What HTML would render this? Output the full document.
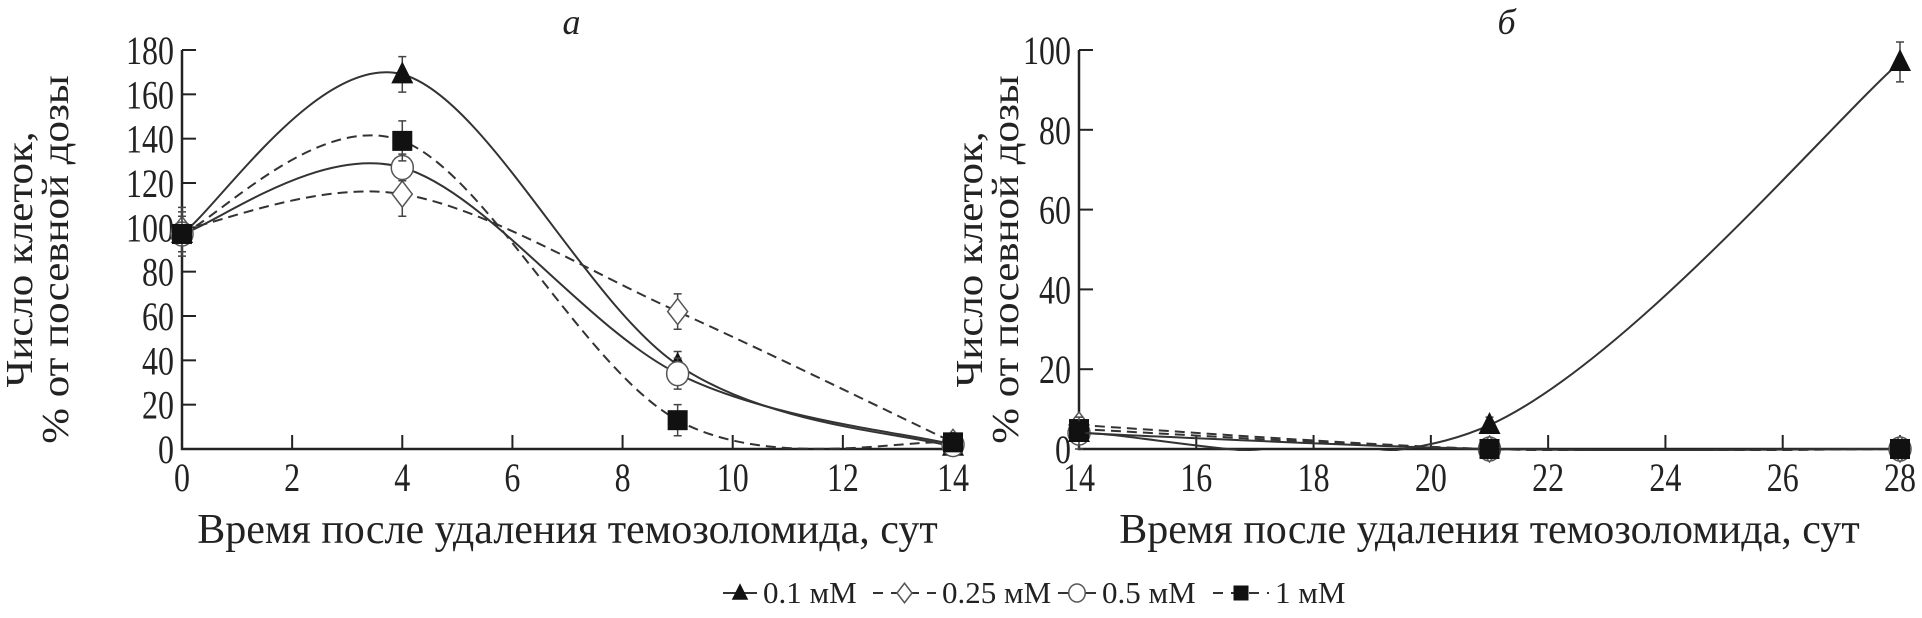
<!DOCTYPE html>
<html><head><meta charset="utf-8"><style>
body{margin:0;background:#fff}
svg text{font-family:"Liberation Serif",serif;fill:#222}
</style></head><body>
<svg id="c" width="1922" height="613" viewBox="0 0 1922 613" xmlns="http://www.w3.org/2000/svg"></svg>
<script>
const daysA=[0,4,9,14];
const a01=[97,169,38,1], a025=[99,115,62,3], a05=[97,127,34,2], a1=[97,139,13,3];
const eA01=[8,8,6,1], eA025=[10,10,8,1], eA05=[10,6,7,1], eA1=[8,9,7,1];
const daysB=[14,21,28];
const b01=[4,6,97], b025=[6,0,0], b05=[4,0,0], b1=[5,0,0];
const eB01=[4,2,5];
const ticksAX=[0,2,4,6,8,10,12,14], ticksAY=[0,20,40,60,80,100,120,140,160,180];
const ticksBX=[14,16,18,20,22,24,26,28], ticksBY=[0,20,40,60,80,100];
const svg=document.getElementById('c');const NS='http://www.w3.org/2000/svg';
function mk(t,a,p){const e=document.createElementNS(NS,t);for(const k in a)e.setAttribute(k,a[k]);(p||svg).appendChild(e);return e;}
function ctext(x,y,anchor,size,sx,txt,g){const t=mk('text',{transform:`translate(${x},${y}) scale(${sx},1)`,'text-anchor':anchor,'font-size':size},g);t.textContent=txt;return t;}
function panel(o){
 const g=mk('g',{});
 const X=v=>o.x0+(v-o.xmin)/(o.xmax-o.xmin)*(o.x1-o.x0), Y=v=>o.y0-(v-o.ymin)/(o.ymax-o.ymin)*(o.y0-o.y1);
 const cid='clip'+o.name;const cp=mk('clipPath',{id:cid},g);mk('rect',{x:o.x0,y:o.y1-20,width:o.x1-o.x0+20,height:o.y0-o.y1+22},cp);
 const ax=mk('path',{d:`M${o.x0},${o.y1}V${o.y0}H${o.x1}`,stroke:'#222','stroke-width':2.5,fill:'none'},g);
 
 o.tx.forEach(v=>{mk('line',{x1:X(v),x2:X(v),y1:o.y0,y2:o.y0-14,stroke:'#222','stroke-width':2},g);
  const t=ctext(X(v),o.y0+42,'middle',40,0.8,v,g);
  });
 o.ty.forEach(v=>{mk('line',{x1:o.x0,x2:o.x0+14,y1:Y(v),y2:Y(v),stroke:'#222','stroke-width':2},g);
  const t=ctext(o.x0-8,Y(v)+14,'end',40,0.8,v,g);
  });
 const tt=mk('text',{x:(o.x0+o.x1)/2,y:o.y0+94,'text-anchor':'middle','font-size':42},g);tt.textContent='Время после удаления темозоломида, сут';
 
 const yt=mk('text',{transform:`translate(${o.ytx},${(o.y0+o.y1)/2+10}) rotate(-90) scale(1.13,1)`,'text-anchor':'middle','font-size':38,'font-family':'"DejaVu Serif",serif'},g);
 
 const s1=mk('tspan',{x:0,dy:0},yt);s1.textContent='Число клеток,';const s2=mk('tspan',{x:0,dy:36},yt);s2.textContent='% от посевной дозы';
 const pl=mk('text',{x:(o.x0+o.x1)/2+o.lo,y:34,'text-anchor':'middle','font-size':36,'font-style':'italic'},g);pl.textContent=o.label;
 
 o.series.forEach(s=>{
  const P=o.days.map((d,i)=>[X(d),Y(s.v[i])]);let d=`M${P[0][0]},${P[0][1]}`;
  for(let i=0;i<P.length-1;i++){const p0=P[i-1]||P[i],p1=P[i],p2=P[i+1],p3=P[i+2]||P[i+1];
   d+=`C${p1[0]+(p2[0]-p0[0])/6},${p1[1]+(p2[1]-p0[1])/6} ${p2[0]-(p3[0]-p1[0])/6},${p2[1]-(p3[1]-p1[1])/6} ${p2[0]},${p2[1]}`;}
  const ln=mk('path',{d,fill:'none',stroke:'#333','stroke-width':2,'stroke-dasharray':s.dash?'10,6':'none','clip-path':`url(#${cid})`},g);
  
  P.forEach((p,i)=>{const e=s.e?s.e[i]:0;if(e){mk('path',{d:`M${p[0]},${Y(s.v[i]+e)}V${Y(s.v[i]-e)}M${p[0]-4},${Y(s.v[i]+e)}h8M${p[0]-4},${Y(s.v[i]-e)}h8`,stroke:'#444','stroke-width':1.5,fill:'none'},g);}
   const m=marker(s.k,p[0],p[1],g);});
 });
}
function marker(k,x,y,g,sz){sz=sz||1;
 if(k==='tri')return mk('path',{d:`M${x},${y-13*sz}L${x+11*sz},${y+9*sz}L${x-11*sz},${y+9*sz}Z`,fill:'#111'},g);
 if(k==='dia')return mk('path',{d:`M${x},${y-13*sz}L${x+10*sz},${y}L${x},${y+13*sz}L${x-10*sz},${y}Z`,fill:'#fff',stroke:'#555','stroke-width':1.5},g);
 if(k==='cir')return mk('ellipse',{cx:x,cy:y,rx:11*sz,ry:12*sz,fill:'#fff',stroke:'#555','stroke-width':1.5},g);
 return mk('rect',{x:x-10*sz,y:y-10*sz,width:20*sz,height:20*sz,fill:'#111'},g);}
panel({name:'panel-a',x0:182,x1:953,y0:449,y1:50,xmin:0,xmax:14,ymin:0,ymax:180,tx:ticksAX,ty:ticksAY,ytx:32,label:'а',lo:4,days:daysA,
 series:[{k:'tri',v:a01,e:eA01},{k:'dia',v:a025,e:eA025,dash:1},{k:'cir',v:a05,e:eA05},{k:'sq',v:a1,e:eA1,dash:1}]});
panel({name:'panel-b',x0:1079,x1:1900,y0:449,y1:50,xmin:14,xmax:28,ymin:0,ymax:100,tx:ticksBX,ty:ticksBY,ytx:982,label:'б',lo:17,days:daysB,
 series:[{k:'cir',v:b05},{k:'dia',v:b025,dash:1},{k:'sq',v:b1,dash:1},{k:'tri',v:b01,e:eB01}]});
const leg=[['tri','0.1 мМ',0,723,763],['dia','0.25 мМ',1,873,942],['cir','0.5 мМ',0,1058,1102],['sq','1 мМ',1,1213,1275]];
leg.forEach(l=>{const g=mk('g',{});
 const w=l[4]-l[3]-6;
 mk('line',{x1:l[3],x2:l[3]+w,y1:593,y2:593,stroke:'#333','stroke-width':2,'stroke-dasharray':l[2]?'10,8':'none'},g);
 marker(l[0],l[3]+w/2,593,g,0.75);const t=mk('text',{x:l[4],y:603,'font-size':31},g);t.textContent=l[1];});
</script>
</body></html>
